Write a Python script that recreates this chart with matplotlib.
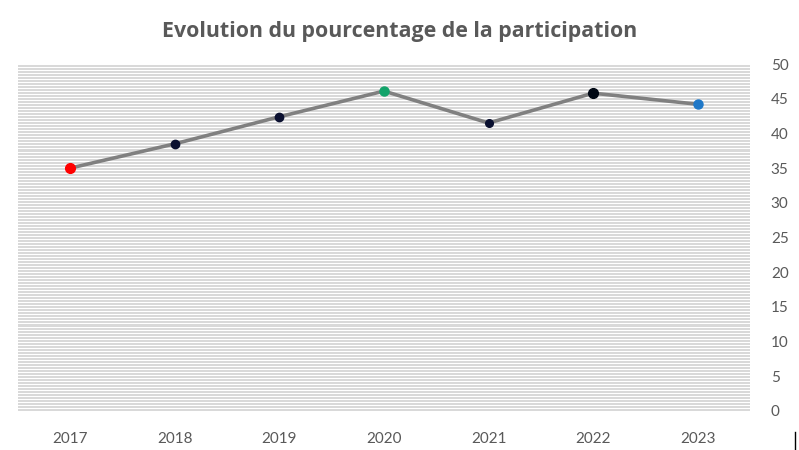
import matplotlib
matplotlib.use("Agg")
import matplotlib.pyplot as plt
from matplotlib.lines import Line2D
import numpy as np

years = ["2017", "2018", "2019", "2020", "2021", "2022", "2023"]
participation = [35.0, 38.5, 42.4, 46.1, 41.5, 45.8, 44.2]
marker_colors = ["#ff0000", "#0a1030", "#0a1030", "#12a36a", "#0a1030", "#000814", "#1f78c8"]
marker_sizes = [7, 6, 6, 6.5, 5.5, 7, 6.5]
y_ticks = [0, 5, 10, 15, 20, 25, 30, 35, 40, 45, 50]

W, H = 799, 450
fig = plt.figure(figsize=(W / 100, H / 100), dpi=100)
ax = fig.add_axes([18 / W, 1 - 411 / H, (750 - 18) / W, (411 - 64) / H])

# pattern fill background
ax.set_facecolor("#d9d9d9")
n_lines = int((411 - 64) / 3)
for i in range(n_lines + 1):
    yy = i / n_lines
    ax.axhline(yy * 50, color="white", lw=0.72, zorder=0)

x = np.arange(len(years))
ax.plot(x, participation, color="#808080", lw=2.6, zorder=2, solid_capstyle="round")
for xi, yi, c, ms in zip(x, participation, marker_colors, marker_sizes):
    ax.plot(xi, yi, "o", color=c, ms=ms, mec=c, zorder=3)

ax.set_xlim(-0.5, len(years) - 0.5)
ax.set_ylim(0, 50)
ax.yaxis.tick_right()
ax.set_yticks(y_ticks)
ax.set_xticks(x)
ax.set_xticklabels(years)
for s in ax.spines.values():
    s.set_visible(False)
ax.tick_params(length=0, labelsize=11, colors="#595959")
for lab in ax.get_xticklabels() + ax.get_yticklabels():
    lab.set_family("Lato")
ax.tick_params(axis="x", pad=15)
ax.tick_params(axis="y", pad=15)

fig.text(0.5, 1 - 31 / H, "Evolution du pourcentage de la participation",
         ha="center", va="center", fontsize=15.4, fontweight="bold",
         color="#595959", family="Open Sans")

fig.add_artist(Line2D([795 / W, 795 / W], [0, 18 / H], color="black", lw=1))

fig.savefig("out.png", dpi=100)
